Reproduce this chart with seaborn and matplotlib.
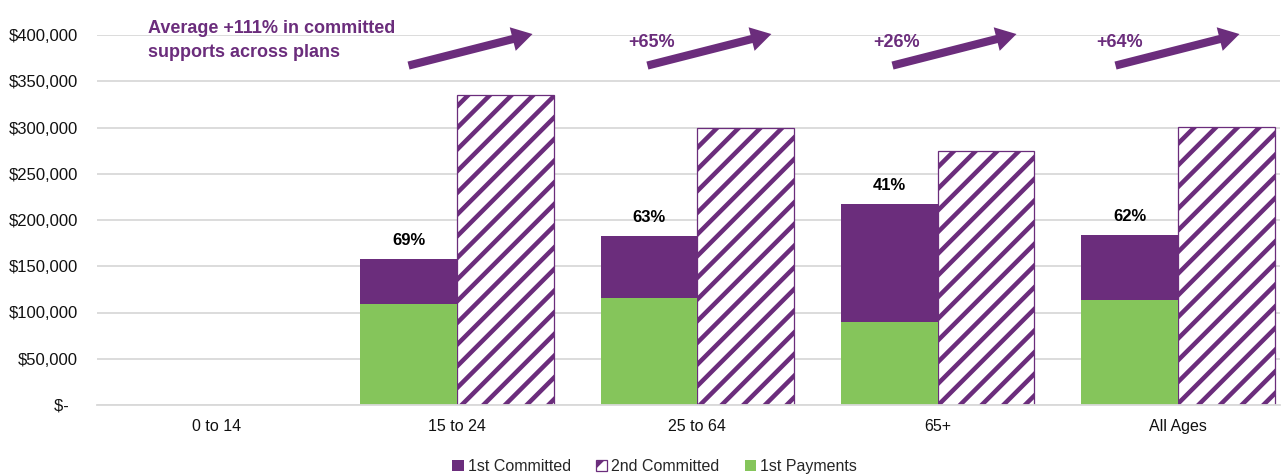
import pandas as pd
import numpy as np
import matplotlib
matplotlib.use('Agg')
import matplotlib.pyplot as plt
from matplotlib.patches import Patch
import seaborn as sns

# ── DATA ────────────────────────────────────────────────────────
ages = ['0 to 14', '15 to 24', '25 to 64', '65+', 'All Ages']
first_committed = [0, 158000, 183000, 217000, 184000]
second_committed = [0, 335000, 300000, 275000, 301000]
first_payments = [0, 109000, 116000, 90000, 114000]
paid_pct = ['', '69%', '63%', '41%', '62%']
increase_labels = ['Average +111% in committed\nsupports across plans',
                   '+65%', '+26%', '+64%']
series = ['1st Committed', '2nd Committed']

# layout: where each growth arrow starts (category units)
arrow_tail_x = [0.784, 1.778, 2.798, 3.726]

PURPLE = '#6B2D7C'
GREEN = '#85C55B'

# hatch spacing is tied to dpi, so render at 130 dpi and scale sizes
DPI = 130
S = 100 / DPI

sns.set_theme(style='white')
plt.rcParams['font.family'] = ['Liberation Sans', 'DejaVu Sans']
plt.rcParams['hatch.linewidth'] = 2.5
plt.rcParams['hatch.color'] = PURPLE

committed = pd.DataFrame({
    'age': ages * 2,
    'series': [series[0]] * len(ages) + [series[1]] * len(ages),
    'value': first_committed + second_committed,
})
payments = pd.DataFrame({
    'age': ages * 2,
    'series': [series[0]] * len(ages) + [series[1]] * len(ages),
    'value': first_payments + [0] * len(ages),
})

fig = plt.figure(figsize=(1284 / DPI, 475 / DPI), dpi=DPI)
ax = fig.add_axes([96.5 / 1284, 70 / 475, (1280 - 96.5) / 1284, 370 / 475])

sns.barplot(data=committed, x='age', y='value', hue='series',
            order=ages, hue_order=series,
            palette={series[0]: PURPLE, series[1]: 'white'},
            width=0.805, saturation=1, legend=False, ax=ax, errorbar=None)
for bar in ax.containers[0]:
    bar.set_linewidth(0)
for bar in ax.containers[1]:
    bar.set_facecolor('white')
    bar.set_edgecolor(PURPLE)
    bar.set_hatch('//')
    bar.set_linewidth(0.7 if bar.get_height() > 0 else 0)

sns.barplot(data=payments, x='age', y='value', hue='series',
            order=ages, hue_order=series,
            palette={series[0]: GREEN, series[1]: GREEN},
            width=0.805, saturation=1, legend=False, ax=ax, errorbar=None)
for bar in ax.containers[2]:
    bar.set_linewidth(0)
for bar in ax.containers[3]:
    bar.set_visible(False)

ax.set_ylim(0, 400000)
ax.set_xlim(-0.5, 4.425)
ax.set_yticks(np.arange(0, 400001, 50000))
ax.set_yticklabels(['$-  '] + [f'${v:,.0f}' for v in np.arange(50000, 400001, 50000)])
ax.yaxis.grid(True, color='#D9D9D9', linewidth=1.0)
ax.set_axisbelow(True)
for s in ['top', 'right', 'left']:
    ax.spines[s].set_visible(False)
ax.spines['bottom'].set_color('#D9D9D9')
ax.spines['bottom'].set_linewidth(1.0)
ax.tick_params(axis='y', length=0, pad=13.3 * S, labelsize=12 * S, labelcolor='#111111')
ax.tick_params(axis='x', length=0, pad=10 * S, labelsize=11.5 * S, labelcolor='#111111')
ax.set_xlabel('')
ax.set_ylabel('')

# share of committed already paid, above the 1st committed bars
for bar, lab in zip(ax.containers[0], paid_pct):
    if lab:
        ax.text(bar.get_x() + bar.get_width() / 2, bar.get_height() + 20000, lab,
                ha='center', va='center', fontsize=12 * S, fontweight='bold', color='black')

# growth arrows and labels
for tail, lab in zip(arrow_tail_x, increase_labels):
    ax.annotate('', xy=(tail + 0.545, 402000), xytext=(tail, 366000),
                annotation_clip=False,
                arrowprops=dict(arrowstyle='simple,head_width=1.25,head_length=1.05,tail_width=0.42',
                                mutation_scale=14 * S, color=PURPLE, lw=0))
    if '\n' in lab:
        ax.text(-0.286, 394500, lab, ha='left', va='center', fontsize=13 * S,
                fontweight='bold', color=PURPLE, linespacing=1.55, clip_on=False)
    else:
        ax.text(tail - 0.065, 392000, lab, ha='left', va='center', fontsize=13 * S,
                fontweight='bold', color=PURPLE, clip_on=False)

handles = [Patch(facecolor=PURPLE, edgecolor=PURPLE, linewidth=0),
           Patch(facecolor='white', edgecolor=PURPLE, hatch='//', linewidth=0.7),
           Patch(facecolor=GREEN, edgecolor=GREEN, linewidth=0)]
fig.legend(handles, ['1st Committed', '2nd Committed', '1st Payments'],
           loc='center', bbox_to_anchor=(0.51, 0.018), ncol=3, frameon=False,
           fontsize=11.5 * S, handlelength=0.7, handleheight=0.7, handletextpad=0.25,
           columnspacing=1.6)

fig.savefig('out.png', dpi=DPI)
